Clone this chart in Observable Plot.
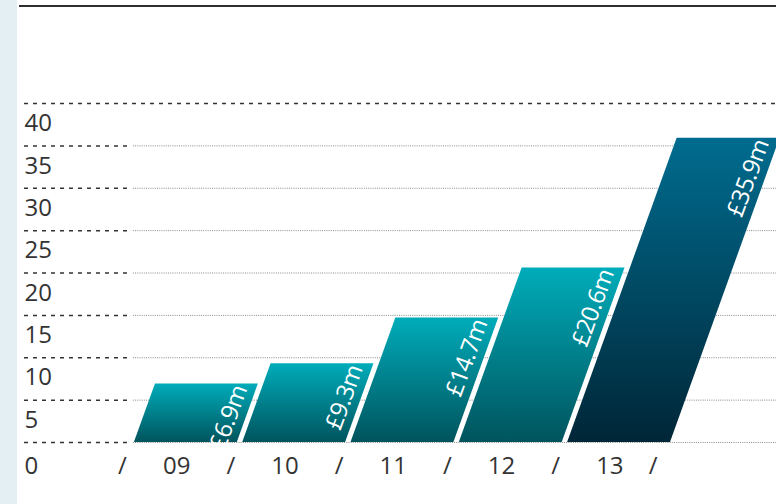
<!DOCTYPE html>
<html><head><meta charset="utf-8">
<script src="https://cdn.jsdelivr.net/npm/d3@7"></script>
<script src="https://cdn.jsdelivr.net/npm/@observablehq/plot@0.6"></script>
<style>
html,body{margin:0;padding:0;background:#fff;overflow:hidden;width:776px;height:504px}
#chart{position:absolute;left:0;top:0}
#strip{position:absolute;left:0;top:0;width:17px;height:504px;background:#e3eff2}
#topline{position:absolute;left:19px;right:0;top:5px;height:2px;background:#2e2e2e}
g[aria-label="bar-labels"] text, g[fill="white"] text{letter-spacing:-0.6px}
</style></head><body>
<div id="chart"></div><div id="strip"></div><div id="topline"></div>
<script>
const years = ["09","10","11","12","13"];
const values = [6.9, 9.3, 14.7, 20.6, 35.9];
const valueLabels = ["£6.9m","£9.3m","£14.7m","£20.6m","£35.9m"];
const yTicks = [0,5,10,15,20,25,30,35,40];
const slashPositions = [0,1,2,3,4,4.9];

// layout / style parameters
const pxPerX = 108.3, x0px = 122;
const yBottom = 442, yTop = 103;
const pxPerY = (yBottom - yTop) / 40;
const slant = 0.36 * pxPerY / pxPerX; // horizontal shift (x units) per value unit
const barL = 0.11, barR = 1.06;
const labelX = -0.905;
const font = "Open Sans, Noto Sans, sans-serif";

const barPts = [];
years.forEach((yr, i) => {
  const v = values[i];
  const last = i === years.length - 1;
  barPts.push({year: yr, y: 0, x1: i + barL, x2: i + barR, last});
  barPts.push({year: yr, y: v, x1: i + barL + slant * v, x2: i + barR + slant * v, last});
});
const barLabels = years.map((yr, i) => ({x: i + barR + slant * values[i], y: values[i], text: valueLabels[i]}));
const yearLabels = years.map((yr, i) => ({x: i + 0.5, text: yr}));

const defs = () => {
  const d = d3.create("svg:defs");
  const g1 = d.append("linearGradient").attr("id","gTeal").attr("x1",0).attr("y1",0).attr("x2",0).attr("y2",1);
  g1.append("stop").attr("offset","0%").attr("stop-color","#00acba");
  g1.append("stop").attr("offset","100%").attr("stop-color","#00545d");
  const g2 = d.append("linearGradient").attr("id","gNavy").attr("x1",0).attr("y1",0).attr("x2",0).attr("y2",1);
  g2.append("stop").attr("offset","0%").attr("stop-color","#006c8f");
  g2.append("stop").attr("offset","100%").attr("stop-color","#002637");
  return d.node();
};

const chart = Plot.plot({
  width: 776, height: 504,
  marginTop: 0, marginBottom: 0, marginLeft: 0, marginRight: 0,
  style: {background: "transparent", fontFamily: font, overflow: "visible"},
  x: {domain: [-1, 6], range: [x0px - pxPerX, x0px + 6 * pxPerX], axis: null},
  y: {domain: [0, 40], range: [yBottom, yTop], axis: null},
  marks: [
    defs,
    Plot.ruleY(yTicks.filter(t => t < 40), {y: d => d, x1: labelX, x2: 0.055, stroke: "#333", strokeWidth: 1.5, strokeDasharray: "4,5"}),
    Plot.ruleY(yTicks.filter(t => t < 40), {y: d => d, x1: 0.10, x2: 6.2, stroke: "#8a8a8a", strokeWidth: 1, strokeDasharray: "1,1.2"}),
    Plot.ruleY([40], {y: d => d, x1: labelX, x2: 6.2, stroke: "#333", strokeWidth: 1.5, strokeDasharray: "4,5"}),
    Plot.areaX(barPts.filter(d => !d.last), {x1: "x1", x2: "x2", y: "y", z: "year", fill: "url(#gTeal)"}),
    Plot.areaX(barPts.filter(d => d.last), {x1: "x1", x2: "x2", y: "y", z: "year", fill: "url(#gNavy)"}),
    Plot.text(barLabels, {x: "x", y: "y", text: "text", rotate: -70, textAnchor: "end", lineAnchor: "bottom", fill: "white", fontSize: 24, dx: -11, dy: 5, ariaLabel: "bar-labels"}),
    Plot.text(yTicks.filter(t => t > 0), {x: labelX, y: d => d, text: d => String(d), textAnchor: "start", fontSize: 24, fill: "#333", dy: 20}),
    Plot.text([0], {x: labelX, y: d => d, text: d => String(d), textAnchor: "start", fontSize: 24, fill: "#333", dy: 24}),
    Plot.text(yearLabels, {x: "x", y: 0, text: "text", fontSize: 24, fill: "#333", dy: 24}),
    Plot.text(slashPositions, {x: d => d, y: 0, text: d => "/", fontSize: 24, fill: "#333", dy: 24})
  ]
});
document.getElementById("chart").appendChild(chart);
</script>
</body></html>
